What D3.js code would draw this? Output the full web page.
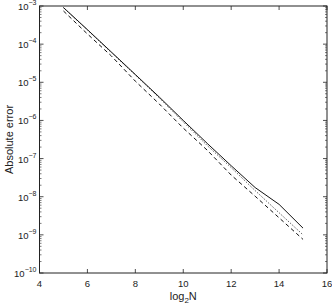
<!DOCTYPE html>
<html>
<head>
<meta charset="utf-8">
<script src="https://cdn.jsdelivr.net/npm/d3@7"></script>
<style>
  body { margin: 0; background: #fff; }
  svg { display: block; font-family: "Liberation Sans", Arial, sans-serif; }
</style>
</head>
<body>
<svg id="chart" width="332" height="306"></svg>
<script>
// log2 N values
var logN = [5, 6, 7, 8, 9, 10, 11, 12, 13, 14, 15];
// absolute error, three runs
var errSolid  = [9.1e-4, 2.4e-4, 6.2e-5, 1.6e-5, 4.1e-6, 1.0e-6, 2.5e-7, 6.5e-8, 1.74e-8, 6.3e-9, 1.5e-9];
var errDotted = [9.0e-4, 2.35e-4, 6.0e-5, 1.55e-5, 3.9e-6, 9.2e-7, 2.2e-7, 5.8e-8, 1.45e-8, 3.8e-9, 1.0e-9];
var errDashed = [7.4e-4, 1.85e-4, 4.9e-5, 1.07e-5, 2.7e-6, 6.3e-7, 1.66e-7, 3.7e-8, 1.03e-8, 2.8e-9, 7.6e-10];
var xTicks = [4, 6, 8, 10, 12, 14, 16];
var yExp = [-10, -9, -8, -7, -6, -5, -4, -3];

var svg = d3.select('#chart');
var L = 39.5, R = 327, T = 6, B = 273;

var x = d3.scaleLinear().domain([4, 16]).range([L, R]);
var y = d3.scaleLog().domain([1e-10, 1e-3]).range([B, T]);

var ink = '#222';

// minor ticks for log axis
var minors = [];
yExp.slice(0, -1).forEach(function(e) {
  for (var k = 2; k <= 9; k++) minors.push(k * Math.pow(10, e));
});

// left + right minor ticks
svg.append('g').selectAll('line')
  .data(minors).enter().append('line')
  .attr('x1', L).attr('x2', L + 2)
  .attr('y1', d => y(d)).attr('y2', d => y(d))
  .attr('stroke', ink).attr('stroke-width', 0.6);
svg.append('g').selectAll('line')
  .data(minors).enter().append('line')
  .attr('x1', R).attr('x2', R - 2)
  .attr('y1', d => y(d)).attr('y2', d => y(d))
  .attr('stroke', ink).attr('stroke-width', 0.6);

// major y ticks
var yMaj = yExp.map(e => Math.pow(10, e));
svg.append('g').selectAll('line')
  .data(yMaj).enter().append('line')
  .attr('x1', L).attr('x2', L + 4)
  .attr('y1', d => y(d)).attr('y2', d => y(d))
  .attr('stroke', ink).attr('stroke-width', 0.8);
svg.append('g').selectAll('line')
  .data(yMaj).enter().append('line')
  .attr('x1', R).attr('x2', R - 4)
  .attr('y1', d => y(d)).attr('y2', d => y(d))
  .attr('stroke', ink).attr('stroke-width', 0.8);

// x ticks, bottom and top
svg.append('g').selectAll('line')
  .data(xTicks).enter().append('line')
  .attr('x1', d => x(d)).attr('x2', d => x(d))
  .attr('y1', B).attr('y2', B - 4)
  .attr('stroke', ink).attr('stroke-width', 0.8);
svg.append('g').selectAll('line')
  .data(xTicks).enter().append('line')
  .attr('x1', d => x(d)).attr('x2', d => x(d))
  .attr('y1', T).attr('y2', T + 4)
  .attr('stroke', ink).attr('stroke-width', 0.8);

// frame
svg.append('rect')
  .attr('x', L).attr('y', T).attr('width', R - L).attr('height', B - T)
  .attr('fill', 'none').attr('stroke', ink).attr('stroke-width', 1);

// tick labels
svg.append('g').selectAll('text')
  .data(xTicks).enter().append('text')
  .attr('x', d => x(d)).attr('y', B + 14)
  .attr('text-anchor', 'middle').attr('font-size', 9.5).attr('fill', ink)
  .text(d => d);

var yl = svg.append('g').selectAll('text')
  .data(yExp).enter().append('text')
  .attr('x', L - 3).attr('y', d => y(Math.pow(10, d)) + 4)
  .attr('text-anchor', 'end').attr('font-size', 9.5).attr('fill', ink);
yl.append('tspan').text('10');
yl.append('tspan').attr('dy', -5).attr('font-size', 7).text(d => '\u2212' + (-d));

// axis titles
var xt = svg.append('text')
  .attr('x', x(10)).attr('y', B + 27)
  .attr('text-anchor', 'middle').attr('font-size', 11).attr('fill', ink);
xt.append('tspan').text('log');
xt.append('tspan').attr('dy', 3).attr('font-size', 8).text('2');
xt.append('tspan').attr('dy', -3).text('N');

svg.append('text')
  .attr('transform', 'translate(13,' + ((T + B) / 2) + ') rotate(-90)')
  .attr('text-anchor', 'middle').attr('font-size', 11).attr('fill', ink)
  .text('Absolute error');

// series
var line = d3.line()
  .x((d, i) => x(logN[i]))
  .y(d => y(d));

var clip = svg.append('clipPath').attr('id', 'clip')
  .append('rect').attr('x', L).attr('y', T).attr('width', R - L).attr('height', B - T);

var plot = svg.append('g').attr('clip-path', 'url(#clip)');
plot.append('path').attr('d', line(errDotted))
  .attr('fill', 'none').attr('stroke', '#333').attr('stroke-width', 1)
  .attr('stroke-dasharray', '1,1.5');
plot.append('path').attr('d', line(errDashed))
  .attr('fill', 'none').attr('stroke', '#111').attr('stroke-width', 1)
  .attr('stroke-dasharray', '4,3');
plot.append('path').attr('d', line(errSolid))
  .attr('fill', 'none').attr('stroke', '#111').attr('stroke-width', 1);
</script>
</body>
</html>
